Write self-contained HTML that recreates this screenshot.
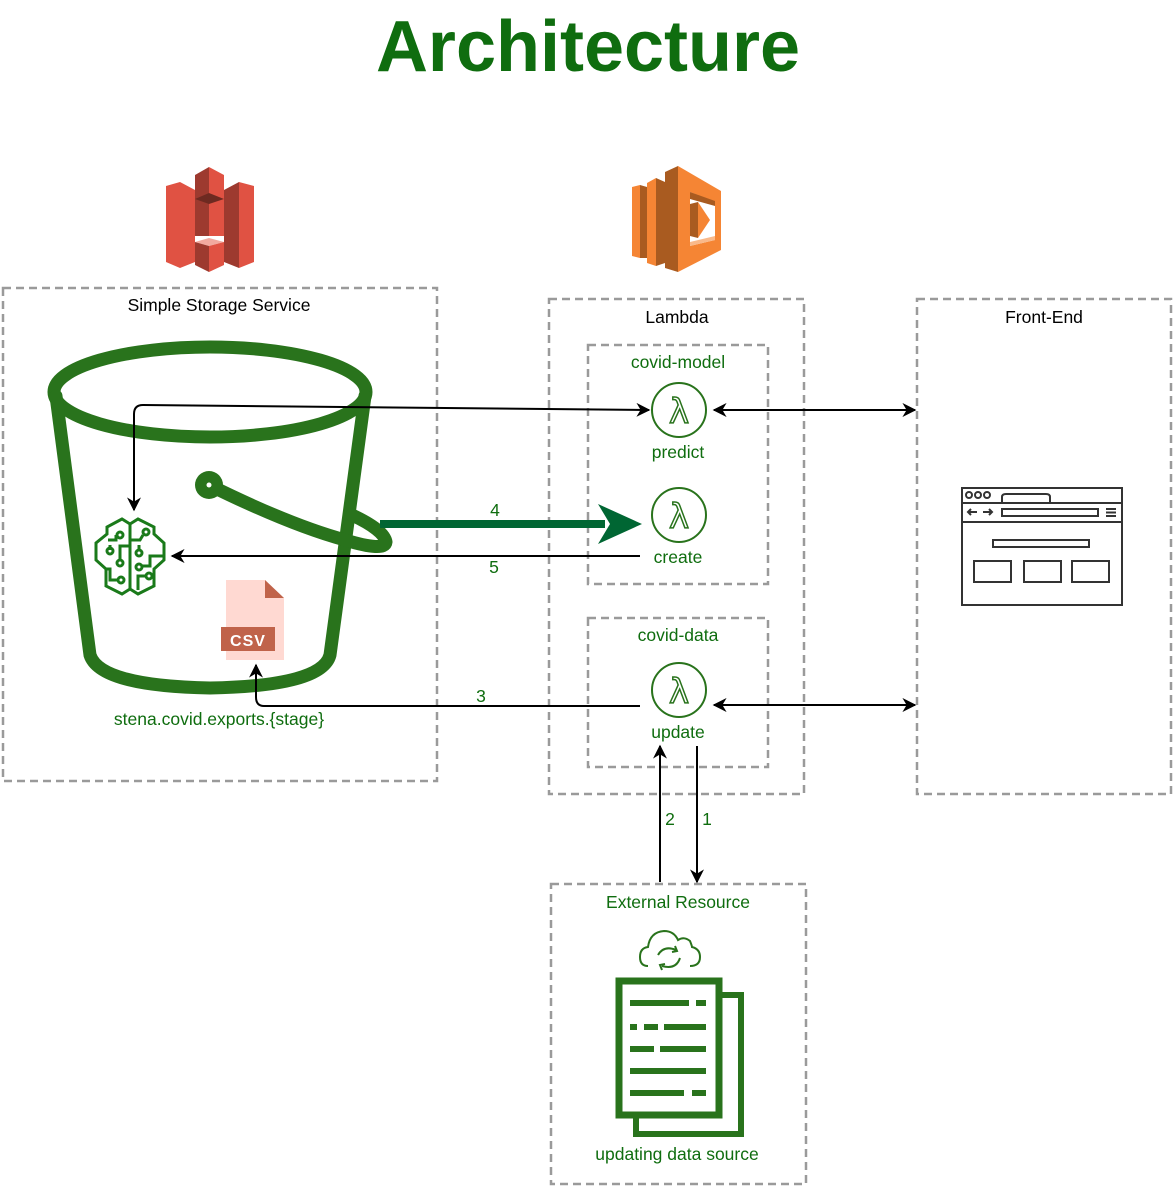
<!DOCTYPE html>
<html><head><meta charset="utf-8"><style>
html,body{margin:0;padding:0;background:#fff;}
svg{display:block;font-family:"Liberation Sans",Arial,sans-serif;}
</style></head><body>
<svg width="1173" height="1187" viewBox="0 0 1173 1187" xmlns="http://www.w3.org/2000/svg">
<defs>
<marker id="ahb" viewBox="0 0 10 10" refX="9" refY="5" markerWidth="14" markerHeight="14" markerUnits="userSpaceOnUse" orient="auto-start-reverse">
<path d="M0,0 L10,5 L0,10 L3,5 z" fill="#000"/></marker>
</defs>
<text x="588" y="71" text-anchor="middle" font-size="72" font-weight="bold" fill="#0f6d0f">Architecture</text>

<!-- S3 icon -->
<g>
<polygon points="166,186 180,182 180,268 166,262" fill="#e05243"/>
<polygon points="180,182 195,190 195,262 180,268" fill="#e05243"/>
<polygon points="239,182 254,186 254,262 239,268" fill="#e05243"/>
<polygon points="224,190 239,182 239,268 224,262" fill="#9d3a2f"/>
<polygon points="195,175 209,167 209,236 195,236" fill="#9d3a2f"/>
<polygon points="209,167 224,175 224,236 209,236" fill="#e05243"/>
<polygon points="195,199 209,193 224,199 209,204" fill="#6e2a21"/>
<rect x="195" y="204" width="14" height="28" fill="#9d3a2f"/>
<rect x="209" y="204" width="15" height="28" fill="#e05243"/>
<polygon points="195,242 209,238 224,242 209,246" fill="#f2a99f"/>
<polygon points="195,242 209,246 209,272 195,265" fill="#9d3a2f"/>
<polygon points="209,246 224,242 224,265 209,272" fill="#e05243"/>
</g>
<!-- Lambda icon -->
<g>
<polygon points="632,187 640,185 640,258 632,256" fill="#f58534"/>
<polygon points="640,185 647,187 647,258 640,258" fill="#a95b20"/>
<polygon points="647,183 656,178 656,266 647,263" fill="#f58534"/>
<polygon points="656,178 665,182 665,263 656,266" fill="#a95b20"/>
<polygon points="665,172 678,166 678,272 665,268" fill="#a95b20"/>
<polygon points="678,166 721,191 721,250 678,272" fill="#f58534"/>
<polygon points="690,192 715,202 715,240 690,246" fill="#fff"/>
<polygon points="690,192 715,201 715,206 690,199" fill="#a95b20"/>
<polygon points="690,204 698,202 698,238 690,236" fill="#a95b20"/>
<polygon points="698,202 710,220 698,238" fill="#f58534"/>
<polygon points="690,246 715,240 715,236 690,242" fill="#f9b98a"/>
</g>

<!-- dashed boxes -->
<g fill="none" stroke="#9a9a9a" stroke-width="2.5" stroke-dasharray="8,5">
<rect x="3" y="288" width="434" height="493"/>
<rect x="549" y="299" width="255" height="495"/>
<rect x="588" y="345" width="180" height="239"/>
<rect x="588" y="618" width="180" height="149"/>
<rect x="917" y="299" width="254" height="495"/>
<rect x="551" y="884" width="255" height="300"/>
</g>
<text x="219" y="311" text-anchor="middle" font-size="17.5" fill="#000">Simple Storage Service</text>
<text x="677" y="323" text-anchor="middle" font-size="17.5" fill="#000">Lambda</text>
<text x="1044" y="323" text-anchor="middle" font-size="17.5" fill="#000">Front-End</text>
<g font-size="17.5" fill="#0f6d0f" text-anchor="middle">
<text x="678" y="368">covid-model</text>
<text x="678" y="641">covid-data</text>
<text x="678" y="908">External Resource</text>
<text x="678" y="458">predict</text>
<text x="678" y="563">create</text>
<text x="678" y="738">update</text>
<text x="219" y="725">stena.covid.exports.{stage}</text>
<text x="677" y="1160">updating data source</text>
<text x="495" y="516">4</text>
<text x="494" y="573">5</text>
<text x="481" y="702">3</text>
<text x="670" y="825">2</text>
<text x="707" y="825">1</text>
</g>

<!-- bucket -->
<g fill="none" stroke="#29731c" stroke-width="13" stroke-linejoin="round" stroke-linecap="round">
<ellipse cx="210" cy="392" rx="156" ry="45"/>
<path d="M56,396 L90,655 Q100,686 210,688 Q322,686 330,655 L365,396"/>
<path d="M209,485 Q290,525 345,540 Q385,552 386,542 Q384,530 352,515"/>
</g>
<circle cx="209" cy="485" r="14" fill="#29731c"/>
<circle cx="209" cy="485" r="2.5" fill="#fff"/>

<!-- brain -->
<g fill="none" stroke="#1a7a1a" stroke-width="3">
<path d="M122,519 L107,527 L107,534 L96,543 L96,560 L106,569 L106,586 L122,594 L130,589 L138,594 L154,586 L154,569 L164,560 L164,543 L154,534 L154,527 L138,519 L130,524 Z"/>
<line x1="130" y1="524" x2="130" y2="589"/>
<path d="M108,540 L116,540 L116,535"/><circle cx="120" cy="535" r="3"/>
<path d="M110,550 L110,545"/><circle cx="110" cy="551" r="3"/>
<path d="M130,546 L120,546 L120,560"/><circle cx="120" cy="563" r="3"/>
<path d="M106,569 L110,569 L110,580 L118,580"/><circle cx="121" cy="580" r="3"/>
<path d="M130,540 L140,540 L143,535"/><circle cx="146" cy="532" r="3"/>
<path d="M139,545 L139,550"/><circle cx="139" cy="553" r="3"/>
<path d="M164,556 L150,556 L150,566 L142,566"/><circle cx="139" cy="567" r="3"/>
<path d="M138,590 L138,576 L146,576"/><circle cx="149" cy="576" r="3"/>
</g>

<!-- csv -->
<polygon points="226,580 265,580 284,598 284,660 226,660" fill="#ffd9d2"/>
<polygon points="265,580 284,598 265,598" fill="#c0634a"/>
<rect x="221" y="627" width="54" height="24" fill="#c0634a"/>
<text x="248" y="646" text-anchor="middle" font-size="16" font-weight="bold" fill="#fff" letter-spacing="1">CSV</text>

<!-- lambda function icons -->
<g fill="none" stroke="#29731c" stroke-width="2">
<circle cx="679" cy="410" r="27"/>
<circle cx="679" cy="515" r="27"/>
<circle cx="679" cy="690" r="27"/>
</g>
<g font-size="34" fill="#fff" stroke="#29731c" stroke-width="1.5" text-anchor="middle" font-family="'DejaVu Sans',sans-serif">
<text x="679" y="423">λ</text>
<text x="679" y="528">λ</text>
<text x="679" y="703">λ</text>
</g>

<!-- browser icon -->
<g fill="none" stroke="#333" stroke-width="2">
<rect x="962" y="488" width="160" height="117"/>
<line x1="962" y1="503" x2="1122" y2="503"/>
<line x1="962" y1="522" x2="1122" y2="522"/>
<path d="M1002,503 L1002,497 Q1002,494 1006,494 L1046,494 Q1050,494 1050,497 L1050,503"/>
<circle cx="969" cy="495" r="3"/><circle cx="978" cy="495" r="3"/><circle cx="987" cy="495" r="3"/>
<rect x="1002" y="509" width="96" height="7"/>
<rect x="993" y="540" width="96" height="7"/>
<rect x="974" y="561" width="37" height="21"/>
<rect x="1024" y="561" width="37" height="21"/>
<rect x="1072" y="561" width="37" height="21"/>
<path d="M1106,509 h10 M1106,512.5 h10 M1106,516 h10"/>
<path d="M968,512 h9 M971,509 l-3,3 l3,3 M983,512 h9 M989,509 l3,3 l-3,3"/>
</g>

<!-- external resource icon -->
<g fill="none" stroke="#29731c">
<path d="M648,966 Q640,966 640,957 Q640,948 648,947 Q650,932 664,931 Q674,931 678,940 Q684,936 690,941 Q692,946 692,947 Q700,949 700,957 Q700,966 690,966" stroke-width="2"/>
<path d="M658,955 Q664,945 676,950 M680,958 Q676,970 662,966" stroke-width="2"/>
<path d="M675,946 l2,5 l-5,1 M662,970 l-2,-5 l5,-1" stroke-width="2"/>
<rect x="619" y="981" width="100" height="134" stroke-width="7"/>
<path d="M719,995 H741 V1134 H636 V1115" stroke-width="6"/>
<path d="M630,1003 h59 M696,1003 h10 M630,1027 h7 M644,1027 h14 M664,1027 h42 M630,1049 h24 M660,1049 h46 M630,1071 h76 M630,1093 h54 M692,1093 h14" stroke-width="6"/>
</g>

<!-- connectors -->
<g fill="none" stroke="#000" stroke-width="2">
<path d="M649,410 L143,405 Q134,405 134,414 L134,510" marker-end="url(#ahb)" marker-start="url(#ahb)"/>
<path d="M714,410 L915,410" marker-end="url(#ahb)" marker-start="url(#ahb)"/>
<path d="M714,705 L915,705" marker-end="url(#ahb)" marker-start="url(#ahb)"/>
<path d="M640,556 L172,556" marker-end="url(#ahb)"/>
<path d="M640,706 L264,706 Q256,706 256,697 L256,665" marker-end="url(#ahb)"/>
<path d="M660,882 L660,746" marker-end="url(#ahb)"/>
<path d="M697,746 L697,882" marker-end="url(#ahb)"/>
</g>
<line x1="380" y1="524" x2="605" y2="524" stroke="#006633" stroke-width="8"/>
<polygon points="598,504 642,524 598,544 610,524" fill="#006633"/>
</svg>
</body></html>
